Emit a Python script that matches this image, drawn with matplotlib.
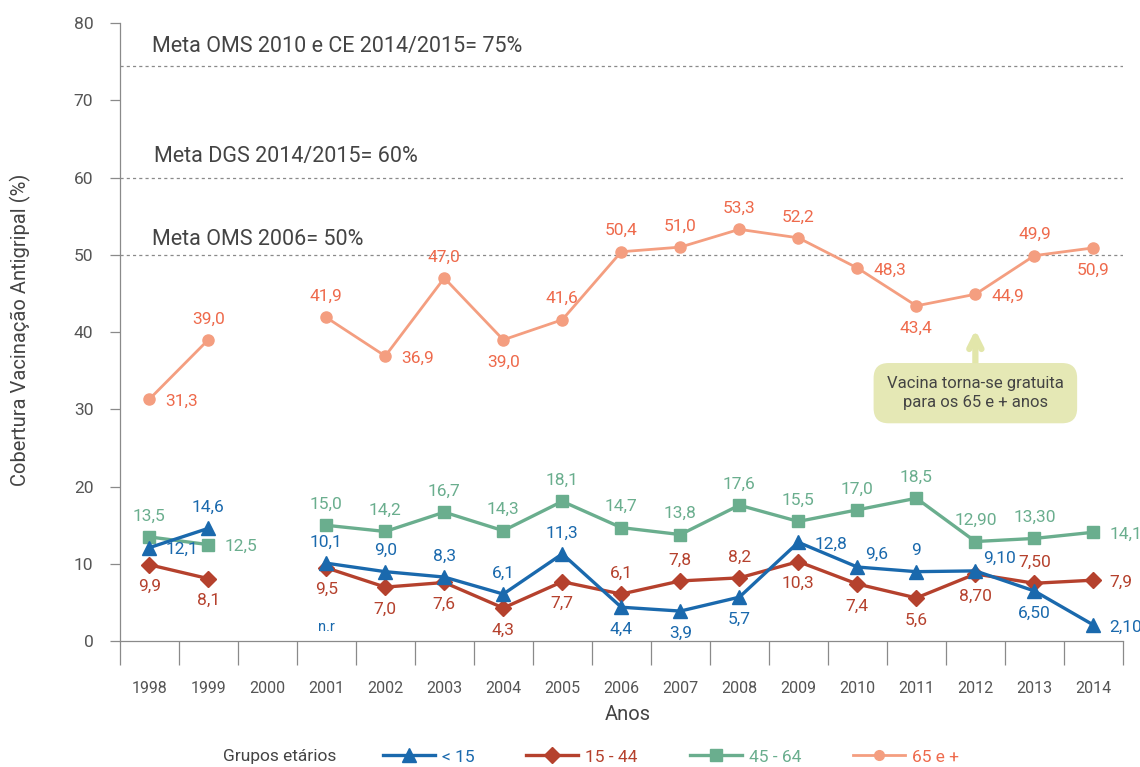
import numpy as np
import matplotlib
matplotlib.use("Agg")
import matplotlib.pyplot as plt
from matplotlib.lines import Line2D
from matplotlib.ticker import FixedLocator

plt.rcParams['font.family'] = ['Roboto', 'DejaVu Sans']

# Dados
anos = ["1998", "1999", "2000", "2001", "2002", "2003", "2004", "2005", "2006",
        "2007", "2008", "2009", "2010", "2011", "2012", "2013", "2014"]
menos15 = [12.1, 14.6, np.nan, 10.1, 9.0, 8.3, 6.1, 11.3, 4.4, 3.9, 5.7, 12.8,
           9.6, 9.0, 9.1, 6.5, 2.1]
g15_44 = [9.9, 8.1, np.nan, 9.5, 7.0, 7.6, 4.3, 7.7, 6.1, 7.8, 8.2, 10.3,
          7.4, 5.6, 8.7, 7.5, 7.9]
g45_64 = [13.5, 12.5, np.nan, 15.0, 14.2, 16.7, 14.3, 18.1, 14.7, 13.8, 17.6,
          15.5, 17.0, 18.5, 12.9, 13.3, 14.1]
g65 = [31.3, 39.0, np.nan, 41.9, 36.9, 47.0, 39.0, 41.6, 50.4, 51.0, 53.3,
       52.2, 48.3, 43.4, 44.9, 49.9, 50.9]

lab_menos15 = ["12,1", "14,6", "", "10,1", "9,0", "8,3", "6,1", "11,3", "4,4",
               "3,9", "5,7", "12,8", "9,6", "9", "9,10", "6,50", "2,10"]
lab_15_44 = ["9,9", "8,1", "", "9,5", "7,0", "7,6", "4,3", "7,7", "6,1", "7,8",
             "8,2", "10,3", "7,4", "5,6", "8,70", "7,50", "7,9"]
lab_45_64 = ["13,5", "12,5", "", "15,0", "14,2", "16,7", "14,3", "18,1",
             "14,7", "13,8", "17,6", "15,5", "17,0", "18,5", "12,90", "13,30",
             "14,1"]
lab_65 = ["31,3", "39,0", "", "41,9", "36,9", "47,0", "39,0", "41,6", "50,4",
          "51,0", "53,3", "52,2", "48,3", "43,4", "44,9", "49,9", "50,9"]

metas = [74.5, 60, 50]
metas_txt = ["Meta OMS 2010 e CE 2014/2015= 75%", "Meta DGS 2014/2015= 60%",
             "Meta OMS 2006= 50%"]

# posicao dos rotulos: "u"=cima, "d"=baixo, "r"=direita, "ur"=cima/direita
pos_menos15 = ["r", "u", "", "u", "u", "u", "u", "u", "d", "d", "d", "r",
               "ur", "u", "ur", "d", "r"]
pos_15_44 = ["d", "d", "", "d", "d", "d", "d", "d", "u", "u", "u", "d", "d",
             "d", "d", "u", "r"]
pos_45_64 = ["u", "r", "", "u", "u", "u", "u", "u", "u", "u", "u", "u", "u",
             "u", "u", "u", "r"]
pos_65 = ["r", "u", "", "u", "r", "u", "d", "u", "u", "u", "u", "u", "r", "d",
          "r", "u", "d"]

c_azul = "#1a69ad"
c_verm = "#b5412d"
c_verde = "#6aae8e"
c_laranja = "#f49e80"
c_laranja_txt = "#ee6a4c"
c_texto = "#444444"


def rotular(ax, vals, labs, poss, cor):
    for i in range(len(vals)):
        if labs[i] == "":
            continue
        p = poss[i]
        if p == "u":
            off, ha = (0, 21), "center"
        elif p == "d":
            off, ha = (0, -22), "center"
        elif p == "ur":
            off, ha = (8, 13), "left"
        else:
            off, ha = (16, -2), "left"
        ax.annotate(labs[i], (i, vals[i]), xytext=off, textcoords="offset pixels",
                    ha=ha, va="center", fontsize=12.5, color=cor)


fig = plt.figure(figsize=(11.4, 7.67), dpi=100)
ax = fig.add_axes([0.105, 0.164, 0.88, 0.806])

x = np.arange(len(anos))

for y in metas:
    ax.axhline(y, color="#8a8a8a", lw=0.9, ls=(0, (2.5, 2.5)), zorder=1)
ax.text(0.04, 76.9, metas_txt[0], fontsize=15.5, color=c_texto, va="center")
ax.text(0.08, 62.7, metas_txt[1], fontsize=15.5, color=c_texto, va="center")
ax.text(0.04, 52.0, metas_txt[2], fontsize=15.5, color=c_texto, va="center")

ax.plot(x, g65, color=c_laranja, lw=2, marker="o", ms=8, zorder=3)
ax.plot(x, g45_64, color=c_verde, lw=2.4, marker="s", ms=9, zorder=3)
ax.plot(x, g15_44, color=c_verm, lw=2.4, marker="D", ms=8.5, zorder=4)
ax.plot(x, menos15, color=c_azul, lw=2.4, marker="^", ms=10.5, zorder=5)

rotular(ax, g65, lab_65, pos_65, c_laranja_txt)
rotular(ax, g45_64, lab_45_64, pos_45_64, c_verde)
rotular(ax, g15_44, lab_15_44, pos_15_44, c_verm)
rotular(ax, menos15, lab_menos15, pos_menos15, c_azul)
ax.text(3, 1.8, "n.r", fontsize=10.5, color=c_azul, ha="center", va="center")

# caixa de anotacao
ax.annotate("Vacina torna-se gratuita\npara os 65 e + anos", xy=(14, 40.3),
            xytext=(14, 32.1), ha="center", va="center", fontsize=12,
            color=c_texto, linespacing=1.3,
            bbox=dict(boxstyle="round,pad=0.8,rounding_size=0.9",
                      fc="#e5e8b5", ec="none"),
            arrowprops=dict(arrowstyle="->", lw=4.5, color="#e2e6aa",
                            mutation_scale=22, shrinkA=0, shrinkB=0))

ax.set_xlim(-0.5, 16.5)
ax.set_ylim(0, 80)
ax.set_yticks(np.arange(0, 81, 10))
ax.set_xticks(x)
ax.set_xticklabels(anos)
ax.xaxis.set_minor_locator(FixedLocator(np.arange(-0.5, 17, 1)))
ax.tick_params(axis="x", which="major", length=0, pad=29, labelsize=11.5,
               labelcolor="#555555")
ax.tick_params(axis="x", which="minor", length=17, width=0.9, color="#8a8a8a")
ax.tick_params(axis="y", length=7, width=0.9, color="#8a8a8a", pad=12,
               labelsize=12.5, labelcolor="#555555")
for s in ["top", "right"]:
    ax.spines[s].set_visible(False)
for s in ["left", "bottom"]:
    ax.spines[s].set_color("#8a8a8a")
    ax.spines[s].set_linewidth(0.9)

fig.text(20 / 1140, 1 - 330 / 767, "Cobertura Vacinação Antigripal (%)",
         rotation=90, ha="center", va="center", fontsize=14.5, color=c_texto)
fig.text(628 / 1140, 1 - 714 / 767, "Anos", ha="center", va="center",
         fontsize=14.5, color=c_texto)
fig.text(280 / 1140, 1 - 757 / 767, "Grupos etários", ha="center",
         va="center", fontsize=12.5, color=c_texto)

handles = [
    Line2D([], [], color=c_azul, lw=2.4, marker="^", ms=9.5),
    Line2D([], [], color=c_verm, lw=2.4, marker="D", ms=8),
    Line2D([], [], color=c_verde, lw=2.4, marker="s", ms=8.5),
    Line2D([], [], color=c_laranja, lw=2, marker="o", ms=7),
]
leg = fig.legend(handles, ["< 15", "15 - 44", "45 - 64", "65 e +"], ncol=4,
                 loc="center", bbox_to_anchor=(671 / 1140, 1 - 757 / 767),
                 frameon=False, fontsize=12.5, handlelength=3.0,
                 columnspacing=3.0, handletextpad=0.4)
for t, c in zip(leg.get_texts(), [c_azul, c_verm, c_verde, c_laranja_txt]):
    t.set_color(c)

fig.savefig("out.png", dpi=100)
